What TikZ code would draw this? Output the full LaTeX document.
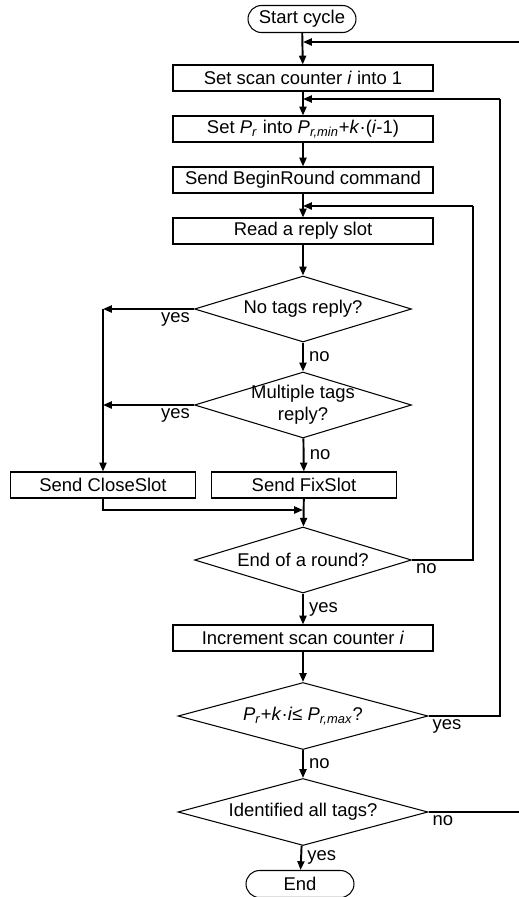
\documentclass[tikz,border=0pt]{standalone}
\usepackage{fontspec}
\setmainfont{Liberation Sans}
\usetikzlibrary{arrows.meta,shapes.geometric,shapes.misc}

\newcommand{\Psub}[1]{\textit{P}\textsubscript{\textit{#1}}}

\begin{document}
\begin{tikzpicture}[x=0.02cm, y=-0.02cm, line width=0.6pt,
  >={Triangle[length=5pt,width=4pt]},
  font=\fontsize{10.5}{12.5}\selectfont,
  every box/.style={draw, rectangle, minimum width=5.2cm, minimum height=0.52cm, inner sep=0pt},
  every test/.style={draw, diamond, minimum width=4.34cm, minimum height=1.32cm, inner sep=0pt},
  wide test/.style={minimum width=5cm, minimum height=1.34cm},
  every term/.style={draw, rounded rectangle, minimum width=2.16cm, minimum height=0.54cm, inner sep=0pt},
  side box/.style={minimum width=3.7cm},
  flow/.style={->, line width=1.1pt},
  back/.style={line width=0.6pt}]

\useasboundingbox (0,0) rectangle (519,897);

% terminals
\node [every term/.try] (start) at (302,19) {Start cycle};
\node [every term/.try] (end) at (300,884) {End};

% process boxes of the main column
\foreach \n/\y/\t in {b1/78/{Set scan counter \textit{i} into 1},
                      b2/129/{Set \Psub{r} into \Psub{r,min}+\textit{k}·(\textit{i}-1)},
                      b3/180/{Send BeginRound command},
                      b4/231/{Read a reply slot},
                      b5/638/{Increment scan counter \textit{i}}}
  \node [every box/.try] (\n) at (303,\y) {\t};

\node [every box/.try, side box] (cs) at (103,485) {Send CloseSlot};
\node [every box/.try, side box] (fs) at (304,485) {Send FixSlot};

% decisions
\node [every test/.try, label={[align=center]center:No tags reply?}] (d1) at (303,309) {};
\node [every test/.try, label={[align=center]center:Multiple tags\\reply?}] (d2) at (303,405) {};
\node [every test/.try, label={[align=center]center:End of a round?}] (d3) at (303,560) {};
\node [every test/.try, wide test,
  label={[align=center]center:\Psub{r}+\textit{k}·\textit{i}≤ \Psub{r,max}?}] (d4) at (303,716) {};
\node [every test/.try, wide test,
  label={[align=center]center:Identified all tags?}] (d5) at (303,812) {};

\coordinate (r1) at (519,42);
\coordinate (r2) at (500,99);
\coordinate (r3) at (473,206);
\coordinate (j) at (303,510);

% straight arrows
\foreach \a/\b in {start/b1, b1/b2, b2/b3, b3/b4, b4/d1, fs/d3, b5/d4}
  \draw [flow] (\a) -- (\b);

\foreach \a/\b/\l [count=\i] in {d1/d2/no, d2/fs/no, d3/b5/yes, d4/d5/no, d5/end/yes}
  \draw [flow] (\a) -- (\b)
    node [right, midway, inner sep=3pt] (down-\i) {\l};

% yes branches to the left
\draw [flow] (d1.west) -- (d1.west -| cs);
\draw [flow] (d2.west) -- (d2.west -| cs);
\draw [flow] (d1.west -| cs) -- (cs);
\draw [flow] (cs) |- (j);
\node [below left, inner sep=2pt] (yes-1) at (d1.west) {yes};
\node [below left, inner sep=2pt] (yes-2) at (d2.west) {yes};

% loops back
\draw [back] (d3.east) -| (r3);
\draw [flow] (r3) -- (r3 -| b4);
\draw [back] (d4.east) -| (r2);
\draw [flow] (r2) -- (r2 -| b2);
\draw [back] (d5.east) -- (d5.east -| r1);
\draw [flow] (r1) -- (r1 -| b1);

\node [below right, inner sep=2pt] (side-1) at (d3.east) {no};
\node [below right, inner sep=2pt] (side-2) at (d4.east) {yes};
\node [below right, inner sep=2pt] (side-3) at (d5.east) {no};

\end{tikzpicture}
\end{document}
